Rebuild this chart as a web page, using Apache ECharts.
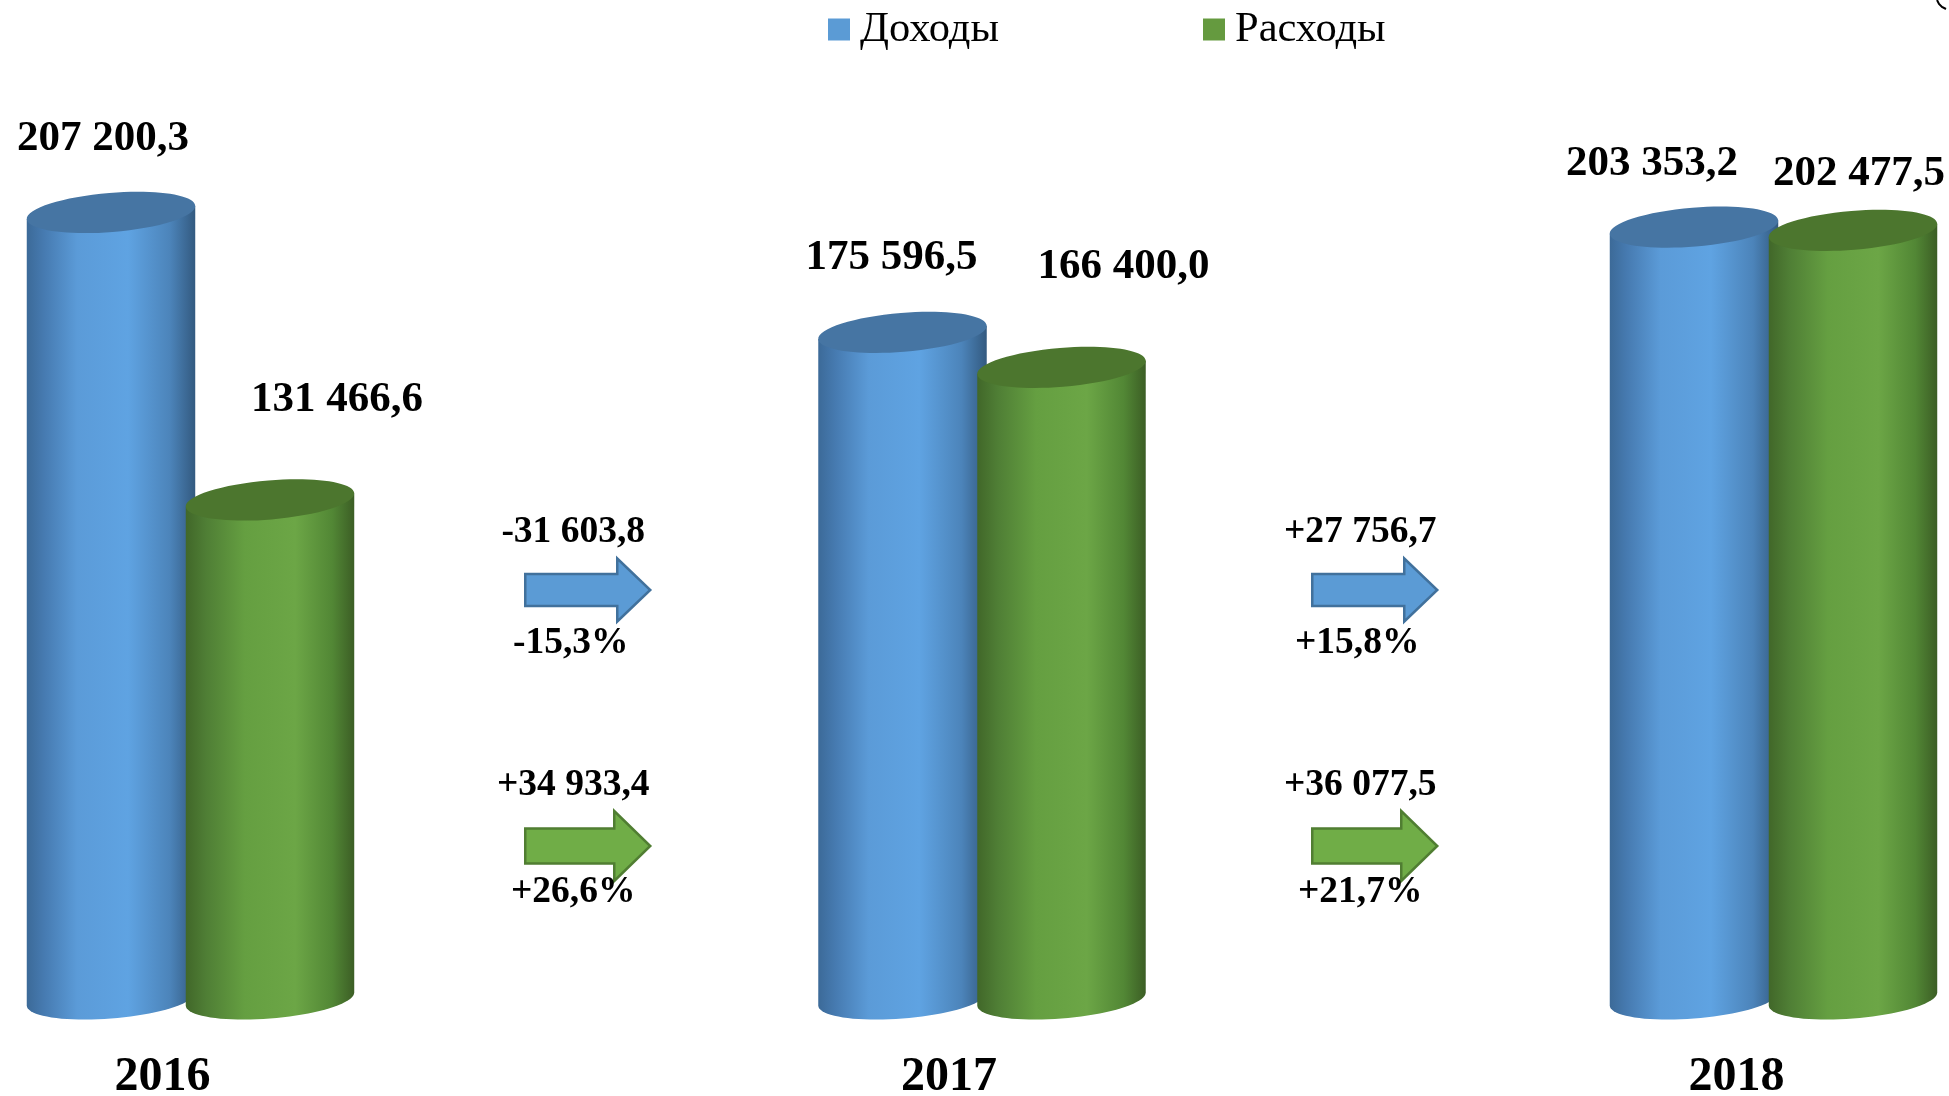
<!DOCTYPE html>
<html>
<head>
<meta charset="utf-8">
<style>
	html, body { margin: 0; padding: 0; background: #fff; }
	#main { width: 1949px; height: 1096px; }
</style>
<script src="https://cdn.jsdelivr.net/npm/echarts@6/dist/echarts.min.js"></script>
</head>
<body>
<div id="main"></div>
<script>
// данные, тыс. руб.
var years = ['2016', '2017', '2018'];
var incomes = [207200.3, 175596.5, 203353.2];
var expenses = [131466.6, 166400.0, 202477.5];
var incomeDeltas = [-31603.8, 27756.7];
var incomePercents = [-15.3, 15.8];
var expenseDeltas = [34933.4, 36077.5];
var expensePercents = [26.6, 21.7];

// подписи над цилиндрами сдвинуты вручную, как в оригинале
var incomeLabelShift = [[-8, -74], [-11, -75], [-42, -63]];
var expenseLabelShift = [[67, -100], [62, -100], [6, -57]];
var arrowShift = [1.5, -3];
var yearLabelPad = [56, 66, 74]; //подписи лет стоят левее центра групп

var FONT = '"Liberation Serif", "Times New Roman", serif';
var TILT = 0.081; // наклон эллипса
var RX = 84.5, RY = 19.5;

function formatValue(v) { // 207200.3 -> 207 200,3
	var parts = Math.abs(v).toFixed(1).split('.');
	return parts[0].replace(/\B(?=(\d{3})+$)/g, ' ') + ',' + parts[1];
}
function signed(v) {
	return (v < 0 ? '-' : '+') + formatValue(v);
}

function ellipsePoint(cx, cy, t) {
	return [
		cx + RX * Math.cos(t) * Math.cos(TILT) + RY * Math.sin(t) * Math.sin(TILT),
		cy - RX * Math.cos(t) * Math.sin(TILT) + RY * Math.sin(t) * Math.cos(TILT)
	];
}

function cylinderItem(offset, stops, topColor, shifts) {
	return function(params, api) {
		var i = api.value(0);
		var top = api.coord([i, api.value(1)]);
		var base = api.coord([i, 0]);
		var cx = top[0] + offset;
		var t0 = Math.atan(RY / RX * Math.tan(TILT));
		var points = [];
		var n = 40;
		points.push(ellipsePoint(cx, top[1], t0));
		for (var k = 0; k <= n; k++) { //нижняя дуга
			points.push(ellipsePoint(cx, base[1], t0 + Math.PI * k / n));
		}
		points.push(ellipsePoint(cx, top[1], t0 + Math.PI));
		return {
			type: 'group',
			children: [{
				type: 'polygon',
				shape: { points: points },
				style: { fill: new echarts.graphic.LinearGradient(0, 0, 1, 0, stops) }
			}, {
				type: 'ellipse',
				shape: { cx: cx, cy: top[1], rx: RX, ry: RY },
				originX: cx,
				originY: top[1],
				rotation: TILT,
				style: { fill: topColor }
			}, {
				type: 'text',
				style: {
					text: formatValue(api.value(1)),
					x: cx + shifts[i][0],
					y: top[1] + shifts[i][1],
					align: 'center',
					verticalAlign: 'middle',
					fontFamily: FONT,
					fontSize: 43,
					fontWeight: 'bold',
					fill: '#000'
				}
			}]
		};
	};
}

function arrowItem(y, halfBody, halfHead, headLen, fill, stroke, topDy, bottomDy, percentDx) {
	return function(params, api) {
		var i = api.value(0);
		var a = api.coord([i, 0]);
		var b = api.coord([i + 1, 0]);
		var cx = (a[0] + b[0]) / 2 + arrowShift[i];
		var left = cx - 62.5, tip = cx + 62.5, head = tip - headLen;
		function label(text, x, yy) {
			return {
				type: 'text',
				style: {
					text: text, x: x, y: yy,
					align: 'center', verticalAlign: 'middle',
					fontFamily: FONT, fontSize: 37.5, fontWeight: 'bold', fill: '#000'
				}
			};
		}
		return {
			type: 'group',
			children: [{
				type: 'polygon',
				shape: { points: [[left, y - halfBody], [head, y - halfBody], [head, y - halfHead], [tip, y], [head, y + halfHead], [head, y + halfBody], [left, y + halfBody]] },
				style: { fill: fill, stroke: stroke, lineWidth: 2.5 }
			},
			label(signed(api.value(1)), left + 48, y + topDy),
			label(signed(api.value(2)) + '%', left + percentDx[i], y + bottomDy)]
		};
	};
}

var blueStops = [
	{ offset: 0, color: '#3c6a98' }, { offset: 0.1, color: '#467ab0' }, { offset: 0.3, color: '#5b9bd8' },
	{ offset: 0.6, color: '#5fa3e2' }, { offset: 0.85, color: '#4c84ba' }, { offset: 1, color: '#335a80' }
];
var greenStops = [
	{ offset: 0, color: '#416729' }, { offset: 0.12, color: '#4f7e35' }, { offset: 0.35, color: '#659f41' },
	{ offset: 0.65, color: '#6ca646' }, { offset: 0.87, color: '#528735' }, { offset: 1, color: '#3c5e25' }
];

var myChart = echarts.init(document.getElementById('main'));
var option = {
	animation: false,
	backgroundColor: '#fff',
	legend: {
		data: ['Доходы', 'Расходы'],
		left: 823,
		top: 3,
		icon: 'rect',
		itemWidth: 22,
		itemHeight: 22,
		itemGap: 204,
		selectedMode: false,
		textStyle: { fontFamily: FONT, fontSize: 42.5, color: '#000', padding: [0, 0, 0, 5] }
	},
	tooltip: { show: false },
	grid: { left: 190.5, top: 50, width: 1583, height: 949, outerBoundsMode: 'none' },
	xAxis: {
		type: 'category',
		boundaryGap: false,
		data: years.map(function(y, i) {
			return { value: y, textStyle: { padding: [0, yearLabelPad[i], 0, 0] } };
		}),
		axisLine: { show: false },
		axisTick: { show: false },
		axisLabel: {
			interval: 0,
			margin: 55,
			fontFamily: FONT,
			fontSize: 48,
			fontWeight: 'bold',
			color: '#000'
		}
	},
	yAxis: { type: 'value', min: 0, max: 250000, show: false, splitLine: { show: false } },
	graphic: [{ //обрезанный знак в правом верхнем углу
		type: 'polyline',
		silent: true,
		shape: { points: [[1937, 0], [1939, 4], [1942, 7], [1946, 9]] },
		style: { stroke: '#000', lineWidth: 2, fill: null }
	}],
	series: [{
		name: 'Доходы',
		type: 'custom',
		itemStyle: { color: '#5b9bd5' },
		renderItem: cylinderItem(-79.5, blueStops, '#4675a3', incomeLabelShift),
		encode: { x: 0, y: 1 },
		data: incomes.map(function(v, i) { return [i, v]; })
	}, {
		name: 'Расходы',
		type: 'custom',
		itemStyle: { color: '#659a3f' },
		renderItem: cylinderItem(79.5, greenStops, '#4c762e', expenseLabelShift),
		encode: { x: 0, y: 1 },
		data: expenses.map(function(v, i) { return [i, v]; })
	}, {
		name: 'Изменение доходов',
		type: 'custom',
		renderItem: arrowItem(590, 16, 31.5, 33, '#5b9bd5', '#41719c', -58, 53, [45.5, 45]),
		encode: { x: 0, y: 1 },
		data: incomeDeltas.map(function(v, i) { return [i, v, incomePercents[i]]; })
	}, {
		name: 'Изменение расходов',
		type: 'custom',
		renderItem: arrowItem(846, 17.5, 35, 36, '#70ad47', '#507e32', -61, 46, [48, 48]),
		encode: { x: 0, y: 1 },
		data: expenseDeltas.map(function(v, i) { return [i, v, expensePercents[i]]; })
	}]
};
myChart.setOption(option);
</script>
</body>
</html>
